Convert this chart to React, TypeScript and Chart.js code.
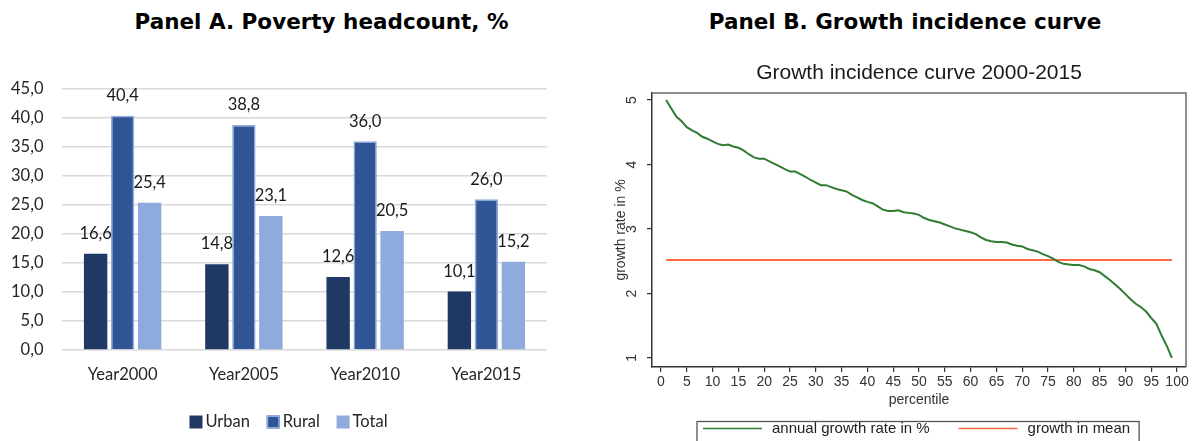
import React, { useEffect, useRef } from "react";
import { Chart, registerables } from "chart.js";

Chart.register(...registerables);

// ---------- Panel A data ----------
const years = ["Year2000", "Year2005", "Year2010", "Year2015"];
const urban = [16.6, 14.8, 12.6, 10.1];
const rural = [40.4, 38.8, 36.0, 26.0];
const total = [25.4, 23.1, 20.5, 15.2];
const povertyTicks = [0, 5, 10, 15, 20, 25, 30, 35, 40, 45];

// ---------- Panel B data ----------
const percentiles = [
  1, 2, 3, 4, 5, 6, 7, 8, 9, 10, 11, 12, 13, 14, 15, 16, 17, 18, 19, 20,
  21, 22, 23, 24, 25, 26, 27, 28, 29, 30, 31, 32, 33, 34, 35, 36, 37, 38, 39, 40,
  41, 42, 43, 44, 45, 46, 47, 48, 49, 50, 51, 52, 53, 54, 55, 56, 57, 58, 59, 60,
  61, 62, 63, 64, 65, 66, 67, 68, 69, 70, 71, 72, 73, 74, 75, 76, 77, 78, 79, 80,
  81, 82, 83, 84, 85, 86, 87, 88, 89, 90, 91, 92, 93, 94, 95, 96, 97, 98, 99,
];
const annualGrowth = [
  5.0, 4.87, 4.74, 4.67, 4.58, 4.53, 4.49, 4.43, 4.4, 4.36,
  4.32, 4.3, 4.31, 4.28, 4.26, 4.22, 4.16, 4.11, 4.09, 4.09,
  4.05, 4.01, 3.97, 3.93, 3.89, 3.89, 3.85, 3.81, 3.76, 3.72,
  3.68, 3.68, 3.65, 3.62, 3.6, 3.58, 3.53, 3.49, 3.45, 3.42,
  3.4, 3.35, 3.3, 3.28, 3.28, 3.29, 3.26, 3.25, 3.24, 3.22,
  3.17, 3.14, 3.12, 3.1, 3.07, 3.04, 3.01, 2.99, 2.97, 2.95,
  2.92, 2.87, 2.83, 2.81, 2.8, 2.8, 2.79, 2.76, 2.74, 2.73,
  2.69, 2.67, 2.65, 2.61, 2.58, 2.54, 2.49, 2.46, 2.45, 2.44,
  2.44, 2.42, 2.38, 2.36, 2.33, 2.27, 2.21, 2.14, 2.07, 1.99,
  1.91, 1.84, 1.79, 1.72, 1.62, 1.53, 1.35, 1.19, 1.0,
];
const growthInMean = 2.52;
const percentileTicks = [0, 5, 10, 15, 20, 25, 30, 35, 40, 45, 50, 55, 60, 65, 70, 75, 80, 85, 90, 95, 100];
const growthTicks = [1, 2, 3, 4, 5];

const fmt = (v: number) => v.toFixed(1).replace(".", ",");
const FONT_A = "Lato";
const FONT_B = "Liberation Sans";

const valueLabels = {
  id: "valueLabels",
  afterDatasetsDraw(chart: any) {
    const ctx = chart.ctx;
    ctx.save();
    ctx.font = `16.5px ${FONT_A}`;
    ctx.fillStyle = "#1a1a1a";
    ctx.textAlign = "center";
    ctx.textBaseline = "middle";
    chart.data.datasets.forEach((ds: any, i: number) => {
      chart.getDatasetMeta(i).data.forEach((bar: any, j: number) => {
        ctx.fillText(fmt(ds.data[j]), bar.x, bar.y - 20);
      });
    });
    ctx.restore();
  },
};

const legendA = {
  id: "legendA",
  afterDraw(chart: any) {
    const ctx = chart.ctx;
    ctx.save();
    ctx.font = `16.5px ${FONT_A}`;
    ctx.textBaseline = "middle";
    ctx.textAlign = "left";
    const box = 13;
    const gap = 3;
    const spacing = 16.7;
    const ds = chart.data.datasets;
    const widths = ds.map((d: any) => box + gap + ctx.measureText(d.label).width);
    const totalW = widths.reduce((a: number, b: number) => a + b, 0) + spacing * (ds.length - 1);
    let x = 288.5 - totalW / 2;
    const y = 422;
    ds.forEach((d: any, i: number) => {
      ctx.fillStyle = d.backgroundColor;
      ctx.fillRect(x, y - box / 2, box, box);
      if (d.borderWidth) {
        ctx.strokeStyle = d.borderColor;
        ctx.lineWidth = d.borderWidth;
        ctx.strokeRect(x + 0.75, y - box / 2 + 0.75, box - 1.5, box - 1.5);
      }
      ctx.fillStyle = "#262626";
      ctx.fillText(d.label, x + box + gap, y);
      x += widths[i] + spacing;
    });
    ctx.restore();
  },
};

const frameB = {
  id: "frameB",
  afterDraw(chart: any) {
    const { ctx, chartArea } = chart;
    ctx.save();
    ctx.strokeStyle = "#6a6a6a";
    ctx.lineWidth = 1.5;
    ctx.beginPath();
    ctx.moveTo(chartArea.left, chartArea.top);
    ctx.lineTo(chartArea.right, chartArea.top);
    ctx.lineTo(chartArea.right, chartArea.bottom);
    ctx.stroke();
    ctx.restore();
  },
};

const legendB = {
  id: "legendB",
  afterDraw(chart: any) {
    const ctx = chart.ctx;
    ctx.save();
    ctx.font = `15px ${FONT_B}`;
    ctx.textBaseline = "middle";
    ctx.textAlign = "left";
    const boxLeft = 102;
    const boxTop = 421.5;
    const y = 428.5;
    const lineLen = 59;
    const lineGap = 10;
    const itemGap = 29;
    let x = boxLeft + 6;
    chart.data.datasets.forEach((d: any) => {
      ctx.strokeStyle = d.borderColor;
      ctx.lineWidth = 1.3;
      ctx.beginPath();
      ctx.moveTo(x, y);
      ctx.lineTo(x + lineLen, y);
      ctx.stroke();
      ctx.fillStyle = "#222";
      const tx = x + lineLen + lineGap;
      ctx.fillText(d.label, tx, y);
      x = tx + ctx.measureText(d.label).width + itemGap;
    });
    const boxRight = x - itemGap + 9;
    ctx.strokeStyle = "#555";
    ctx.lineWidth = 1.3;
    ctx.strokeRect(boxLeft, boxTop, boxRight - boxLeft, 40);
    ctx.restore();
  },
};

function PanelA() {
  const ref = useRef<HTMLCanvasElement>(null);
  useEffect(() => {
    const W = 595;
    const xH = 40;
    const chart = new Chart(ref.current as HTMLCanvasElement, {
      type: "bar",
      data: {
        labels: years,
        datasets: [
          { label: "Urban", data: urban, backgroundColor: "#203864", borderWidth: 0 },
          { label: "Rural", data: rural, backgroundColor: "#2F5597", borderColor: "#8FAADC", borderWidth: 1.5 },
          { label: "Total", data: total, backgroundColor: "#8FAADC", borderWidth: 0 },
        ],
      },
      options: {
        responsive: false,
        animation: false,
        layout: { padding: { top: 89, right: W - 547, bottom: 441 - 350 - xH, left: 0 } },
        datasets: { bar: { categoryPercentage: 0.668, barPercentage: 0.866 } },
        scales: {
          x: {
            grid: { display: false, drawTicks: false },
            border: { display: false },
            ticks: { font: { family: FONT_A, size: 16.5 }, color: "#262626", padding: 15 },
            afterFit(s: any) {
              s.height = xH;
            },
          },
          y: {
            min: 0,
            max: 45,
            afterBuildTicks(s: any) {
              s.ticks = povertyTicks.map((v) => ({ value: v }));
            },
            ticks: {
              callback: (v: any) => fmt(Number(v)),
              padding: 18.5,
              font: { family: FONT_A, size: 16.5 },
              color: "#262626",
            },
            grid: { color: "#d9d9d9", lineWidth: 1.5, drawTicks: false },
            border: { display: false },
            afterFit(s: any) {
              s.width = 62;
            },
          },
        },
        plugins: { legend: { display: false }, tooltip: { enabled: false } },
      } as any,
      plugins: [valueLabels, legendA],
    });
    return () => chart.destroy();
  }, []);
  return <canvas ref={ref} width={595} height={441} style={{ position: "absolute", left: 0, top: 0 }} />;
}

function PanelB() {
  const ref = useRef<HTMLCanvasElement>(null);
  useEffect(() => {
    const W = 599;
    const xH = 50;
    const axisColor = "#333";
    const chart = new Chart(ref.current as HTMLCanvasElement, {
      type: "line",
      data: {
        datasets: [
          {
            label: "annual growth rate in %",
            data: percentiles.map((p, i) => ({ x: p, y: annualGrowth[i] })),
            borderColor: "#2f7d32",
            borderWidth: 2,
            pointRadius: 0,
            tension: 0,
          },
          {
            label: "growth in mean",
            data: [
              { x: percentiles[0], y: growthInMean },
              { x: percentiles[percentiles.length - 1], y: growthInMean },
            ],
            borderColor: "#ff6840",
            borderWidth: 2,
            pointRadius: 0,
          },
        ],
      },
      options: {
        responsive: false,
        animation: false,
        layout: { padding: { top: 60.9, right: W - 591, bottom: 441 - 367 - xH, left: 0 } },
        scales: {
          x: {
            type: "linear",
            min: -1.744,
            max: 101.74,
            afterBuildTicks(s: any) {
              s.ticks = percentileTicks.map((v) => ({ value: v }));
            },
            ticks: {
              autoSkip: false,
              maxRotation: 0,
              minRotation: 0,
              font: { family: FONT_B, size: 14 },
              color: "#333",
              padding: 2,
            },
            grid: { display: true, drawOnChartArea: false, drawTicks: true, tickLength: 5, color: axisColor, lineWidth: 1.2 },
            border: { display: true, color: axisColor, width: 1.5 },
            title: {
              display: true,
              text: "percentile",
              font: { family: FONT_B, size: 14 },
              color: "#333",
              padding: { top: 0, bottom: 8.6 },
            },
            afterFit(s: any) {
              s.height = xH;
            },
          },
          y: {
            min: 0.86,
            max: 5.109,
            afterBuildTicks(s: any) {
              s.ticks = growthTicks.map((v) => ({ value: v }));
            },
            ticks: {
              minRotation: 90,
              maxRotation: 90,
              crossAlign: "center",
              padding: 11,
              font: { family: FONT_B, size: 14 },
              color: "#333",
            },
            grid: { display: true, drawOnChartArea: false, drawTicks: true, tickLength: 5, color: axisColor, lineWidth: 1.2 },
            border: { display: true, color: axisColor, width: 1.5 },
            title: {
              display: true,
              text: "growth rate in %",
              font: { family: FONT_B, size: 14 },
              color: "#333",
              padding: { top: 17.6, bottom: 0 },
            },
            afterFit(s: any) {
              s.width = 57;
            },
          },
        },
        plugins: {
          legend: { display: false },
          tooltip: { enabled: false },
          title: {
            display: true,
            text: "Growth incidence curve 2000-2015",
            fullSize: false,
            font: { family: FONT_B, size: 21, weight: "normal" },
            color: "#1a1a1a",
            padding: { top: 0, bottom: 6.9 },
          },
        },
      } as any,
      plugins: [frameB, legendB],
    });
    return () => chart.destroy();
  }, []);
  return <canvas ref={ref} width={599} height={441} style={{ position: "absolute", left: 595, top: 0 }} />;
}

const headingStyle: React.CSSProperties = {
  position: "absolute",
  top: 11,
  fontFamily: "'DejaVu Sans', sans-serif",
  fontWeight: "bold",
  fontSize: "21.5px",
  lineHeight: "21.5px",
  color: "#000",
  whiteSpace: "nowrap",
  transform: "translateX(-50%)",
};

export default function App() {
  return (
    <div
      style={{
        position: "fixed",
        left: 0,
        top: 0,
        width: 1194,
        height: 441,
        background: "#fff",
        overflow: "hidden",
      }}
    >
      <div style={{ ...headingStyle, left: 321.5 }}>Panel A. Poverty headcount, %</div>
      <div style={{ ...headingStyle, left: 905 }}>Panel B. Growth incidence curve</div>
      <PanelA />
      <PanelB />
    </div>
  );
}
